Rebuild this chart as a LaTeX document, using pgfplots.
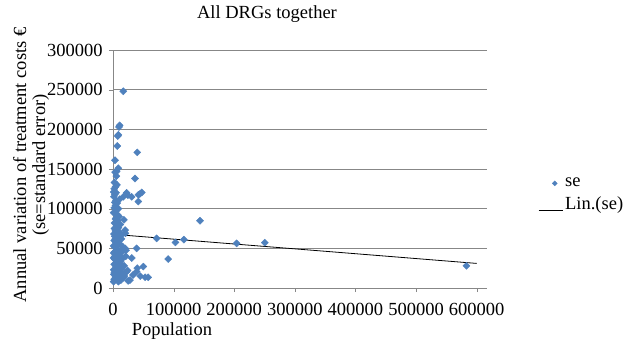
\documentclass[border=0pt]{standalone}
\usepackage{pgfplots}
\pgfplotsset{compat=1.18}
\usepackage{fontspec}
\setmainfont{Liberation Serif}
\definecolor{mkblue}{HTML}{4F81BD}
\definecolor{axgray}{HTML}{878787}
\begin{document}
\fontsize{18.5}{19}\selectfont
\begin{tikzpicture}[x=1pt,y=1pt]
\useasboundingbox (0,0) rectangle (637,341);
\begin{axis}[
  at={(113pt,53pt)}, anchor=south west,
  scale only axis, width=374pt, height=238pt,
  xmin=0, xmax=617000, ymin=0, ymax=300000,
  xtick={0,100000,...,600000},
  ytick={0,50000,...,300000},
  scaled ticks=false,
  /pgf/number format/assume math mode=true,
  xticklabel={\pgfmathprintnumber[fixed,1000 sep={}]{\tick}},
  yticklabel={\pgfmathprintnumber[fixed,1000 sep={}]{\tick}},
  axis x line*=bottom, axis y line*=left,
  axis line style={axgray, -},
  x axis line style={shorten >=11pt},
  tick style={axgray},
  tick align=outside, major tick length=4pt,
  ymajorgrids, grid style={axgray, line width=0.6pt},
  tick label style={font=\fontsize{18.5}{19}\selectfont, black},
  xticklabel style={yshift=-5pt},
  legend style={at={(axis description cs:1.134,0.39)}, anchor=west, draw=none, fill=none,
     font=\fontsize{18.5}{19}\selectfont, row sep=4pt, inner sep=1pt,
     /tikz/every odd column/.append style={column sep=0pt}},
  legend cell align=left,
  clip=false,
]
\addplot[only marks, mark=square*, mark options={rotate=45}, mark size=2.5pt, color=mkblue,
  legend image code/.code={\path[draw=none] (0pt,0pt) -- (24pt,0pt); \path[fill=mkblue] plot[mark=square*, mark options={rotate=45,fill=mkblue,draw=mkblue}, mark size=1.8pt] coordinates {(16pt,0pt)};}]
table {
x y
17000 248000
9900 203000
11000 205000
7800 191600
8800 193000
7000 179000
40000 171000
3300 161000
8800 151000
3500 146000
6000 147000
5500 141000
36300 138000
4200 127700
6500 130000
2500 133000
1000 121000
3000 118000
1500 115000
22600 120000
24500 117000
17000 115000
42000 117500
45000 119000
47500 120500
41800 109000
5000 110000
7000 107000
4000 104000
2000 101000
6000 98000
3000 95000
8000 92000
5000 88000
10000 90000
7500 85000
18000 86000
2500 82000
6000 79000
9000 76000
20000 73000
4000 72000
11000 70000
20500 69000
1500 68000
3000 65000
7000 63000
13000 66000
72000 62600
103000 57500
117000 61000
204000 56300
250500 57100
143600 84800
583000 28000
39000 50000
20000 50000
21500 47500
2000 60000
4500 58000
8000 56000
12000 55000
1000 53000
3500 51000
6000 49000
9500 47000
14000 45000
2000 45000
5000 43000
7500 41000
11000 40000
15000 37000
21000 40000
1000 38000
3000 36000
6000 35000
9000 33000
12000 31000
2000 30000
4500 28000
7000 27000
10000 25000
14000 24000
1000 23000
3500 21000
6500 20000
9000 18000
22500 20500
24000 22000
91000 36500
50000 27000
53000 13500
58000 13500
39000 20600
33000 16400
25000 9000
28000 10000
17000 13000
19000 15000
9000 8000
2000 11000
4000 14000
6000 12000
11000 16000
13000 10000
1500 17000
5000 25000
8000 30000
3000 40000
5500 54000
10000 60000
2500 75000
7000 70000
12000 80000
4000 87000
1000 95000
9000 100000
3000 108000
11000 112000
2000 125000
5000 120000
30800 115000
31000 37800
1000 8000
16000 18000
18500 28000
16000 52000
14000 62000
6500 33000
8500 22000
3800 30500
1200 44000
10500 43500
7000 46000
4000 62000
9000 66000
13000 34000
2000 19000
15000 14000
40000 25000
45000 15000
};
\addlegendentry{se}
\addplot[black, line width=0.8pt,
  legend image code/.code={\draw[black, line width=0.8pt] (0pt,-5pt) -- (24pt,-5pt);}]
coordinates {(0,67700) (600000,31000)};
\addlegendentry{Lin.(se)}
\end{axis}
\node at (267,327) {All DRGs together};
\node[rotate=90, align=center] at (31,176) {Annual variation of treatment costs €\\(se=standard error)};
\node at (172,10) {Population};
\end{tikzpicture}
\end{document}
